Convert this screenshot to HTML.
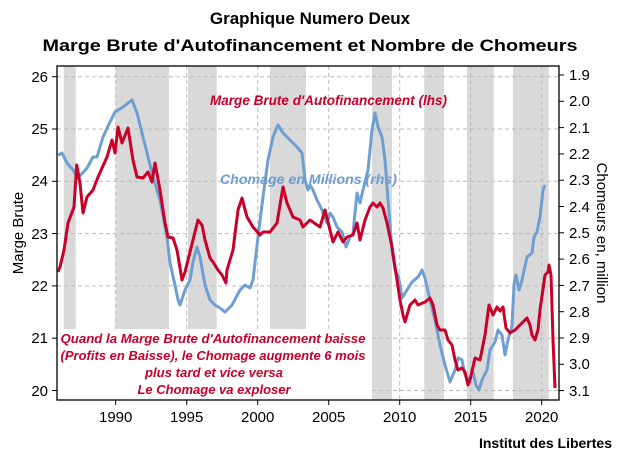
<!DOCTYPE html>
<html><head><meta charset="utf-8"><style>
html,body{margin:0;padding:0;background:#fff;}
svg{display:block;font-family:"Liberation Sans",sans-serif;}
</style></head><body>
<svg width="620" height="465" viewBox="0 0 620 465" xmlns="http://www.w3.org/2000/svg">
<text x="310" y="24" text-anchor="middle" font-size="17" font-weight="bold" fill="#000">Graphique Numero Deux</text>
<text x="310" y="51" text-anchor="middle" font-size="17" font-weight="bold" fill="#000" textLength="535" lengthAdjust="spacingAndGlyphs">Marge Brute d'Autofinancement et Nombre de Chomeurs</text>
<g fill="#d9d9d9">
<rect x="63.7" y="66" width="12" height="334"/>
<rect x="115.7" y="66" width="53.3" height="334"/>
<rect x="188" y="66" width="28.7" height="334"/>
<rect x="270" y="66" width="36" height="334"/>
<rect x="372" y="66" width="20" height="334"/>
<rect x="424.3" y="66" width="19.7" height="334"/>
<rect x="467" y="66" width="26.7" height="334"/>
<rect x="513" y="66" width="35.7" height="334"/>
</g>
<g stroke="#bbb" stroke-width="1" stroke-dasharray="4,3">
<line x1="57" x2="559" y1="76.7" y2="76.7"/><line x1="57" x2="559" y1="129" y2="129"/><line x1="57" x2="559" y1="181.3" y2="181.3"/><line x1="57" x2="559" y1="233.6" y2="233.6"/><line x1="57" x2="559" y1="285.9" y2="285.9"/><line x1="57" x2="559" y1="338.2" y2="338.2"/><line x1="57" x2="559" y1="390.5" y2="390.5"/>
<line y1="66" y2="400" x1="115.7" x2="115.7"/><line y1="66" y2="400" x1="186.7" x2="186.7"/><line y1="66" y2="400" x1="257.7" x2="257.7"/><line y1="66" y2="400" x1="328.7" x2="328.7"/><line y1="66" y2="400" x1="399.7" x2="399.7"/><line y1="66" y2="400" x1="470.7" x2="470.7"/><line y1="66" y2="400" x1="541.7" x2="541.7"/>
</g>
<polyline fill="none" stroke="#6f9fd1" stroke-width="3" stroke-linejoin="round" points="58,155 62,153 67,163 73,170 78,178 87,168 93,157 97,157 103,137 110,122 115,112 123,107 132,100 137,113 143,137 153,177 160,200 167,237 170,263 175,285 178,300 180,305 185,290 190,280 193,262 197,247 200,257 205,285 210,300 215,305 220,308 225,312 232,305 240,290 245,285 250,288 253,280 258,237 263,197 268,160 273,137 278,125 283,133 290,140 297,147 302,153 305,180 308,190 310,185 313,190 317,200 322,210 327,223 330,213 333,217 337,227 342,232 346,247 350,237 353,233 357,193 360,203 363,190 368,170 372,130 375,113 378,127 382,137 385,160 388,200 392,250 395,270 398,275 400,285 402,298 407,290 412,282 418,277 422,270 425,278 430,300 435,320 440,345 445,365 450,382 455,370 458,358 462,360 465,375 468,380 470,378 473,372 476,385 479,390 482,380 487,370 490,350 495,342 498,330 502,335 505,355 508,340 511,330 512,325 514,285 516,275 519,290 522,280 527,257 532,253 534,237 537,232 540,217 543,190 545,185"/>
<polyline fill="none" stroke="#c8002a" stroke-width="3" stroke-linejoin="round" points="58,272 60,267 64,250 68,223 74,207 76.7,165 80,183 83,213 87,197 93,190 98,177 107,157 112,140 115,153 118,127 122,143 128,128 133,160 137,177 143,178 148,172 152,182 155,163 160,190 165,223 168,237 173,238 177,250 180,268 182,280 185,272 188,260 193,240 198,220 202,225 205,240 210,258 213,262 218,270 222,275 226,283 227,270 233,250 238,210 242,198 247,217 253,227 260,235 263,232 270,232 277,223 283,187 287,203 293,217 300,220 303,227 308,222 310,220 320,227 325,210 330,230 333,242 338,232 343,242 347,237 353,235 357,223 360,240 365,220 370,207 373,203 377,207 380,203 383,208 387,223 392,247 395,267 400,300 403,315 405,322 410,305 415,300 418,305 425,302 430,298 433,305 437,325 440,330 445,330 448,340 452,345 455,360 458,370 462,368 465,372 468,385 470,380 475,358 480,360 485,335 489,305 493,315 497,307 500,311 503,307 506,328 510,333 515,330 520,325 527,318 530,325 532,335 535,340 538,330 540,310 545,275 548,272 549,265 551,275 553,340 555,388"/>
<rect x="56" y="329" width="314" height="71" fill="#fff"/>
<g fill="#c8002a" font-style="italic" font-weight="bold" font-size="13" text-anchor="middle">
<text x="213" y="343" textLength="305" lengthAdjust="spacingAndGlyphs">Quand la Marge Brute d'Autofinancement baisse</text>
<text x="213" y="360" textLength="305" lengthAdjust="spacingAndGlyphs">(Profits en Baisse), le Chomage augmente 6 mois</text>
<text x="214" y="377" textLength="138" lengthAdjust="spacingAndGlyphs">plus tard et vice versa</text>
<text x="214" y="394" textLength="153" lengthAdjust="spacingAndGlyphs">Le Chomage va exploser</text>
</g>
<text x="210" y="105" fill="#c8002a" font-style="italic" font-weight="bold" font-size="14" textLength="237" lengthAdjust="spacingAndGlyphs">Marge Brute d'Autofinancement (lhs)</text>
<text x="220" y="184" fill="#6f9fd1" font-style="italic" font-weight="bold" font-size="14" textLength="177" lengthAdjust="spacingAndGlyphs">Chomage en Millions (rhs)</text>
<rect x="57" y="66" width="502" height="334" fill="none" stroke="#000" stroke-width="1.3"/>
<g stroke="#000" stroke-width="1">
<line x1="52" x2="57" y1="76.7" y2="76.7"/><line x1="52" x2="57" y1="129" y2="129"/><line x1="52" x2="57" y1="181.3" y2="181.3"/><line x1="52" x2="57" y1="233.6" y2="233.6"/><line x1="52" x2="57" y1="285.9" y2="285.9"/><line x1="52" x2="57" y1="338.2" y2="338.2"/><line x1="52" x2="57" y1="390.5" y2="390.5"/>
<line x1="115.7" x2="115.7" y1="400" y2="405"/><line x1="186.7" x2="186.7" y1="400" y2="405"/><line x1="257.7" x2="257.7" y1="400" y2="405"/><line x1="328.7" x2="328.7" y1="400" y2="405"/><line x1="399.7" x2="399.7" y1="400" y2="405"/><line x1="470.7" x2="470.7" y1="400" y2="405"/><line x1="541.7" x2="541.7" y1="400" y2="405"/>
<line x1="559" x2="564" y1="75" y2="75"/><line x1="559" x2="564" y1="101.3" y2="101.3"/><line x1="559" x2="564" y1="127.6" y2="127.6"/><line x1="559" x2="564" y1="153.9" y2="153.9"/><line x1="559" x2="564" y1="180.2" y2="180.2"/><line x1="559" x2="564" y1="206.5" y2="206.5"/><line x1="559" x2="564" y1="232.8" y2="232.8"/><line x1="559" x2="564" y1="259.1" y2="259.1"/><line x1="559" x2="564" y1="285.4" y2="285.4"/><line x1="559" x2="564" y1="311.7" y2="311.7"/><line x1="559" x2="564" y1="338" y2="338"/><line x1="559" x2="564" y1="364.3" y2="364.3"/><line x1="559" x2="564" y1="390.6" y2="390.6"/>
</g>
<g font-size="15" fill="#000" text-anchor="end">
<text x="48" y="82">26</text><text x="48" y="134">25</text><text x="48" y="186">24</text><text x="48" y="239">23</text><text x="48" y="291">22</text><text x="48" y="343">21</text><text x="48" y="396">20</text>
</g>
<g font-size="15" fill="#000">
<text x="569" y="80">1.9</text><text x="569" y="106">2.0</text><text x="569" y="133">2.1</text><text x="569" y="159">2.2</text><text x="569" y="185">2.3</text><text x="569" y="212">2.4</text><text x="569" y="238">2.5</text><text x="569" y="264">2.6</text><text x="569" y="291">2.7</text><text x="569" y="317">2.8</text><text x="569" y="343">2.9</text><text x="569" y="369">3.0</text><text x="569" y="396">3.1</text>
</g>
<g font-size="15" fill="#000" text-anchor="middle">
<text x="115.7" y="422">1990</text><text x="186.7" y="422">1995</text><text x="257.7" y="422">2000</text><text x="328.7" y="422">2005</text><text x="399.7" y="422">2010</text><text x="470.7" y="422">2015</text><text x="541.7" y="422">2020</text>
</g>
<text transform="translate(23,233) rotate(-90)" text-anchor="middle" font-size="15" fill="#000">Marge Brute</text>
<text transform="translate(597,233) rotate(90)" text-anchor="middle" font-size="15" fill="#000">Chomeurs en, million</text>
<text x="612" y="448" text-anchor="end" font-size="14" font-weight="bold" fill="#000">Institut des Libertes</text>
</svg>
</body></html>
